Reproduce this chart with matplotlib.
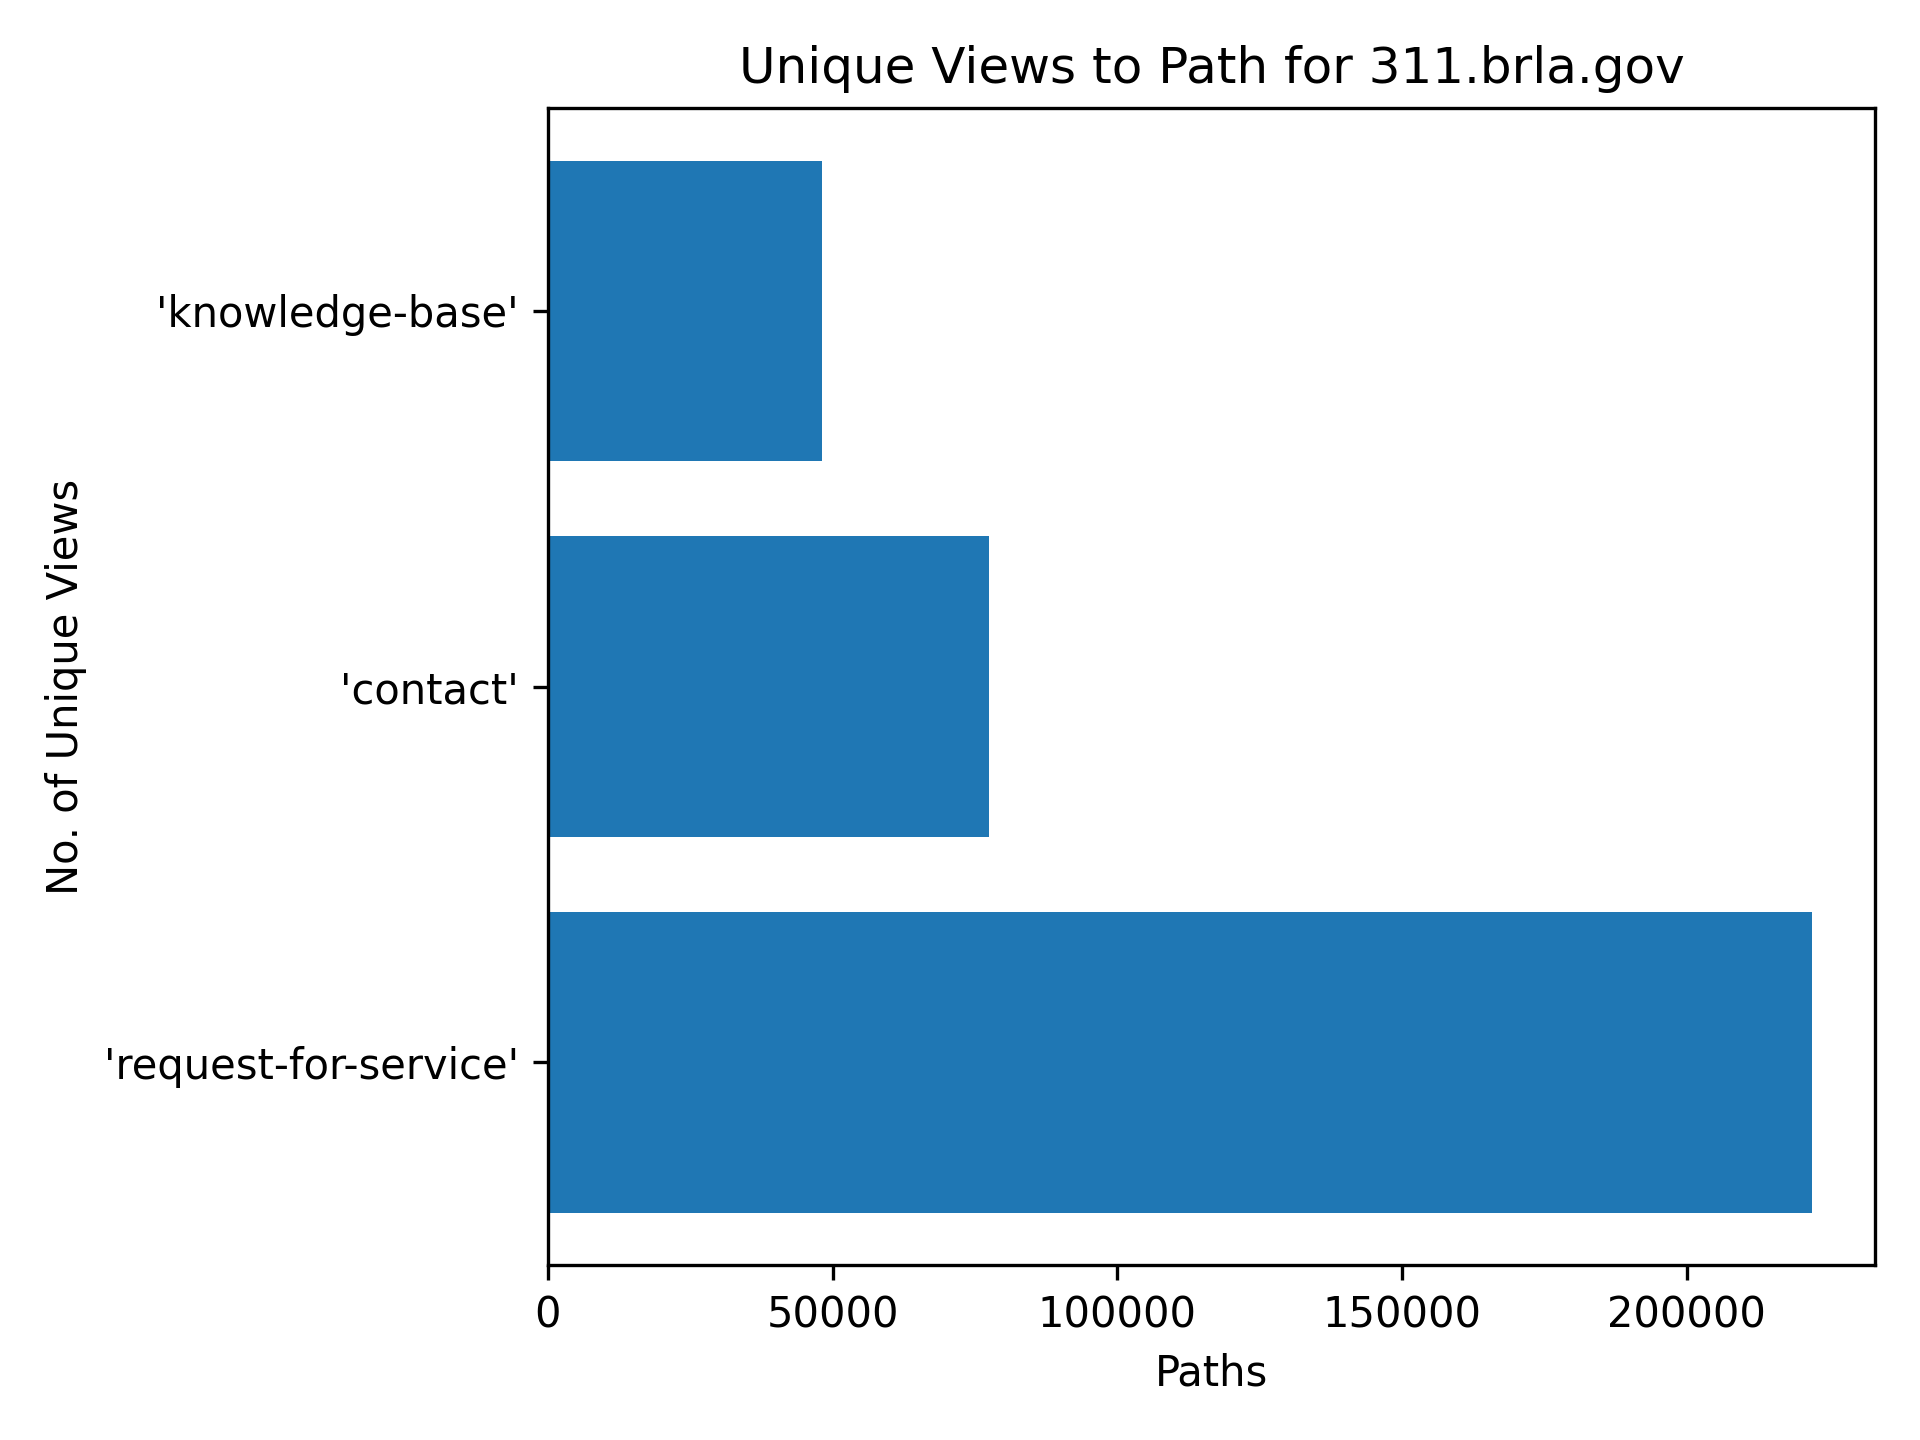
import matplotlib
matplotlib.use("Agg")
import matplotlib.pyplot as plt

paths = ["'request-for-service'", "'contact'", "'knowledge-base'"]
views = [222000, 77500, 48200]

fig, ax = plt.subplots(figsize=(6.4, 4.8), dpi=300)
ax.barh(paths, views, color='#1f77b4')
ax.set_title("Unique Views to Path for 311.brla.gov")
ax.set_xlabel("Paths")
ax.set_ylabel("No. of Unique Views")
fig.tight_layout()
fig.savefig("out.png")
